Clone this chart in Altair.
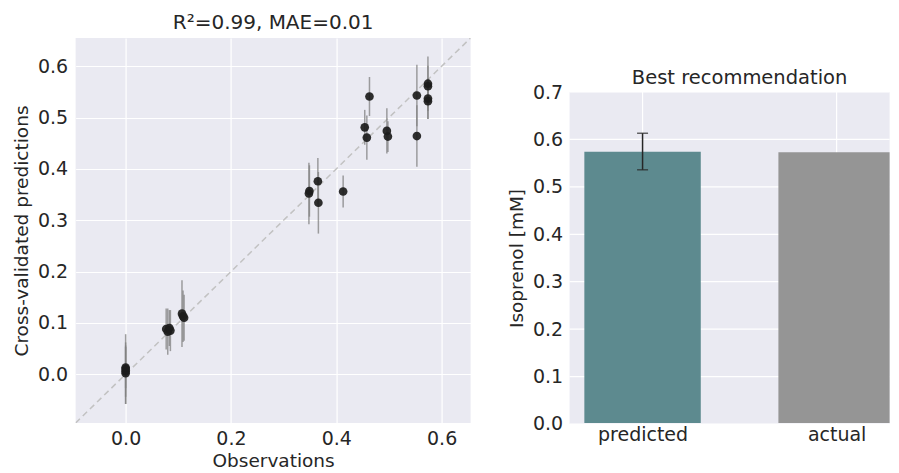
import json
import altair as alt
import pandas as pd

# ---------------- data ----------------
# left panel: cross-validated predictions vs observations
obs = [0.0, 0.0, 0.0, 0.0,
       0.077, 0.080, 0.083, 0.085,
       0.107, 0.109, 0.111,
       0.348, 0.349, 0.365, 0.366, 0.413,
       0.463, 0.454, 0.458, 0.496, 0.498,
       0.553, 0.553,
       0.574, 0.574, 0.574, 0.574]
pred = [0.002, 0.006, 0.010, 0.013,
        0.088, 0.083, 0.090, 0.085,
        0.118, 0.113, 0.110,
        0.352, 0.357, 0.376, 0.334, 0.356,
        0.541, 0.481, 0.461, 0.474, 0.463,
        0.543, 0.464,
        0.566, 0.561, 0.537, 0.532]
pred_err = [0.060, 0.050, 0.068, 0.040,
            0.040, 0.045, 0.035, 0.040,
            0.065, 0.050, 0.045,
            0.060, 0.050, 0.045, 0.060, 0.031,
            0.038, 0.034, 0.043, 0.044, 0.030,
            0.060, 0.060,
            0.053, 0.040, 0.040, 0.035]
axis_lim = [-0.095, 0.655]
left_x_ticks = [0.0, 0.2, 0.4, 0.6]
left_y_ticks = [0.0, 0.1, 0.2, 0.3, 0.4, 0.5, 0.6]
left_title = "R\u00b2=0.99, MAE=0.01"

# right panel: best recommendation
categories = ["predicted", "actual"]
bar_values = [0.574, 0.573]
bar_err_low = [0.536, None]
bar_err_high = [0.613, None]
bar_x_lim = [-0.376, 1.273]
bar_title_x = 0.5
bar_y_lim = [0.0, 0.7]
bar_y_ticks = [0.0, 0.1, 0.2, 0.3, 0.4, 0.5, 0.6, 0.7]
bar_colors = ["#5d8a8f", "#959595"]
right_title = "Best recommendation"

# ---------------- style ----------------
FONT = "DejaVu Sans"
TEXT = "#262626"
BG = "#eaeaf2"
LW, LH = 395, 385
RW = 320
R_RANGE = [386, 54]

def axis(title, values, pad, tpad, grid=True):
    return alt.Axis(values=values, format=".1f", title=title, grid=grid,
                    gridColor="white", gridWidth=1.2, domain=False, ticks=False,
                    labelPadding=pad, titlePadding=tpad, labelFontSize=19,
                    titleFontSize=18.5, labelColor=TEXT, titleColor=TEXT,
                    labelFont=FONT, titleFont=FONT, titleFontWeight="normal")

# ---------------- left chart ----------------
df = pd.DataFrame({"obs": obs, "pred": pred, "err": pred_err})
diag = pd.DataFrame({"obs": axis_lim, "pred": axis_lim})

xs = alt.Scale(domain=axis_lim, nice=False, zero=False)
ys = alt.Scale(domain=axis_lim, nice=False, zero=False)
xax = axis("Observations", left_x_ticks, 7, 3)
yax = axis("Cross-validated predictions", left_y_ticks, 8, 6)
XL = dict(scale=xs, axis=xax)
YL = dict(scale=ys, axis=yax)

line = alt.Chart(diag).mark_line(color="#c2c2c2", strokeDash=[6, 4], strokeWidth=1.5, clip=True).encode(
    x=alt.X("obs:Q", **XL),
    y=alt.Y("pred:Q", **YL),
)
errs = alt.Chart(df).transform_calculate(
    lo="datum.pred - datum.err", hi="datum.pred + datum.err"
).mark_rule(color="#808080", opacity=0.75, strokeWidth=1.5).encode(
    x=alt.X("obs:Q", **XL),
    y=alt.Y("lo:Q", **YL),
    y2="hi:Q",
)
pts = alt.Chart(df).mark_circle(size=75, color="#1c1c1c", opacity=0.92).encode(
    x=alt.X("obs:Q", **XL),
    y=alt.Y("pred:Q", **YL),
)
ltitle = alt.Chart(alt.Data(values=[{}])).mark_text(
    text=left_title, fontSize=20, font=FONT, color=TEXT, baseline="alphabetic", dy=-9
).encode(
    x=alt.X(datum=sum(axis_lim) / 2, type="quantitative", **XL),
    y=alt.Y(datum=axis_lim[1], type="quantitative", **YL),
)
left = alt.layer(line, errs, pts, ltitle).properties(
    width=LW, height=LH,
    view=alt.ViewBackground(fill=BG, stroke=None),
)

# ---------------- right chart ----------------
bdf = pd.DataFrame({"category": categories, "idx": list(range(len(categories))),
                    "value": bar_values, "lo": bar_err_low, "hi": bar_err_high})
xs2 = alt.Scale(domain=bar_x_lim, nice=False, zero=False)
ys2 = alt.Scale(domain=bar_y_lim, range=R_RANGE, nice=False, zero=False)
label_expr = json.dumps(categories) + "[datum.value]"
xax2 = alt.Axis(values=list(range(len(categories))), labelExpr=label_expr, title=None,
                grid=False, domain=False, ticks=False, labelPadding=3,
                labelFontSize=19, labelColor=TEXT, labelFont=FONT)
yax2 = axis("Isoprenol [mM]", bar_y_ticks, 7, 6, grid=False)

X2 = dict(scale=xs2, axis=xax2)
Y2 = dict(scale=ys2, axis=yax2)

bg = alt.Chart(alt.Data(values=[{}])).mark_rect(color=BG).encode(
    x=alt.X(datum=bar_x_lim[0], type="quantitative", **X2),
    x2=alt.datum(bar_x_lim[1]),
    y=alt.Y(datum=bar_y_lim[1], type="quantitative", **Y2),
    y2=alt.datum(bar_y_lim[0]),
)
hgrid = alt.Chart(pd.DataFrame({"value": bar_y_ticks})).mark_rule(color="white", strokeWidth=1.2).encode(
    y=alt.Y("value:Q", **Y2),
    x=alt.X(datum=bar_x_lim[0], type="quantitative", **X2),
    x2=alt.datum(bar_x_lim[1]),
)
vgrid = alt.Chart(pd.DataFrame({"idx": list(range(len(categories)))})).mark_rule(color="white", strokeWidth=1.2).encode(
    x=alt.X("idx:Q", **X2),
    y=alt.Y(datum=bar_y_lim[1], type="quantitative", **Y2),
    y2=alt.datum(bar_y_lim[0]),
)
bars = alt.Chart(bdf).transform_calculate(
    x0="datum.idx - 0.3", x1="datum.idx + 0.3"
).mark_rect(clip=True).encode(
    x=alt.X("x0:Q", **X2),
    x2="x1:Q",
    y=alt.Y("value:Q", **Y2),
    y2=alt.datum(0),
    color=alt.Color("category:N", scale=alt.Scale(domain=categories, range=bar_colors), legend=None),
)
err_df = bdf.dropna()
erule = alt.Chart(err_df).mark_rule(color="#262626", strokeWidth=1.5).encode(
    x=alt.X("idx:Q", **X2), y=alt.Y("lo:Q", **Y2), y2="hi:Q")
ecap_lo = alt.Chart(err_df).mark_tick(color="#262626", orient="horizontal", size=11, thickness=1.5).encode(
    x=alt.X("idx:Q", **X2), y=alt.Y("lo:Q", **Y2))
ecap_hi = alt.Chart(err_df).mark_tick(color="#262626", orient="horizontal", size=11, thickness=1.5).encode(
    x=alt.X("idx:Q", **X2), y=alt.Y("hi:Q", **Y2))
rtitle = alt.Chart(alt.Data(values=[{}])).mark_text(
    text=right_title, fontSize=19.5, font=FONT, color=TEXT, baseline="alphabetic", dy=-8
).encode(
    x=alt.X(datum=bar_title_x, type="quantitative", **X2),
    y=alt.Y(datum=bar_y_lim[1], type="quantitative", **Y2),
)
right = alt.layer(bg, hgrid, vgrid, bars, erule, ecap_lo, ecap_hi, rtitle).properties(
    width=RW, height=LH,
    view=alt.ViewBackground(fill=None, stroke=None),
)

chart = alt.hconcat(left, right, spacing=36).properties(
    padding={"left": 3.6, "top": 5, "right": 0, "bottom": 0}
).configure_view(stroke=None).configure(font=FONT)

chart.save("out.html", embed_options={"renderer": "svg", "actions": False})
